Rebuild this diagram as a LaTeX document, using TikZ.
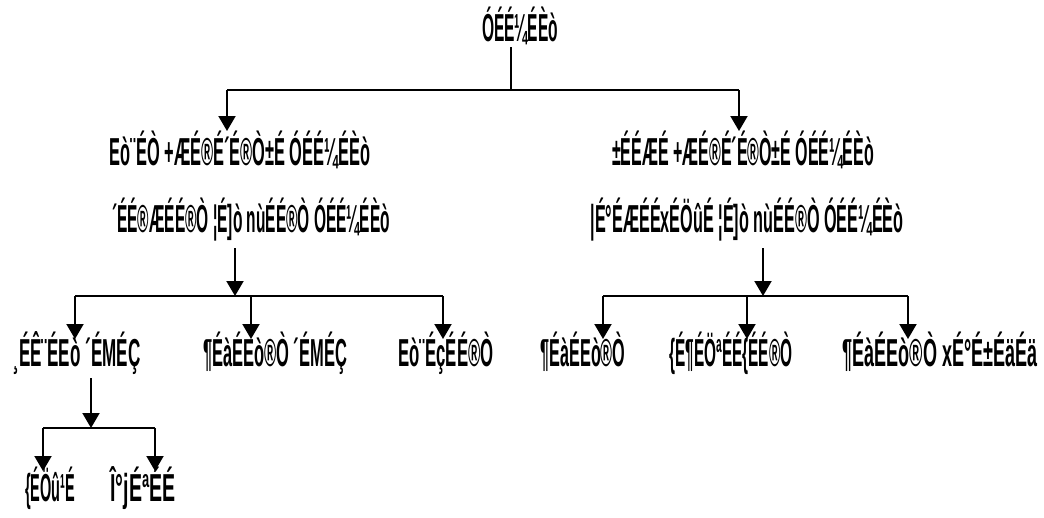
\documentclass[tikz,border=0pt]{standalone}
\usepackage{fontspec}
\usepackage{graphicx}
\setmainfont{Liberation Sans}
\usetikzlibrary{arrows.meta}
\newsavebox{\lblbox}
\newcommand{\fitw}[2]{\sbox{\lblbox}{#2}\scalebox{\fpeval{(#1)/(\wd\lblbox)}}[1]{\usebox{\lblbox}}}
\begin{document}
\begin{tikzpicture}[x=1pt,y=-1pt,
  lbl/.style={inner sep=0pt,anchor=base,font=\fontsize{39}{41}\selectfont\bfseries},
  conn/.style={line width=2pt},
  arr/.style={line width=2pt,-{Triangle[width=17pt,length=15pt]}}]
\useasboundingbox (0,0) rectangle (1044,517);
% texts
\node[lbl] (top) at (520,41) {\fitw{76pt}{ÓÉÉ¼ÉÈò}};
\node[lbl] (l2a) at (240,165) {\fitw{260pt}{Eò¨ÉÒ +ÆÉ®É´É®Ò±É ÓÉÉ¼ÉÈò}};
\node[lbl] (l2b) at (743,165) {\fitw{262pt}{±ÉÉÆÉ +ÆÉ®É´É®Ò±É ÓÉÉ¼ÉÈò}};
\node[lbl] (l3a) at (251,232) {\fitw{278pt}{´ÉÉ®ÆÉÉ®Ò ¦É]ò nùÉÉ®Ò ÓÉÉ¼ÉÈò}};
\node[lbl] (l3b) at (747,232) {\fitw{313pt}{|É°ÉÆÉÉxÉÖûÉ ¦É]ò nùÉÉ®Ò ÓÉÉ¼ÉÈò}};
\node[lbl] (l4a) at (77,366) {\fitw{127pt}{¸ÉÊ¨ÉEò ´ÉMÉÇ}};
\node[lbl] (l4b) at (275,366) {\fitw{144pt}{¶ÉàÉEò®Ò ´ÉMÉÇ}};
\node[lbl] (l4c) at (446,366) {\fitw{95pt}{Eò¨ÉçÉÉ®Ò}};
\node[lbl] (l4d) at (583,366) {\fitw{85pt}{¶ÉàÉEò®Ò}};
\node[lbl] (l4e) at (731,366) {\fitw{123pt}{\{É¶ÉÖªÉÉ\{ÉÉ®Ò}};
\node[lbl] (l4f) at (940,366) {\fitw{195pt}{¶ÉàÉEò®Ò xÉ°É±ÉäÉä}};
\node[lbl] (l5a) at (50,501) {\fitw{50pt}{\{ÉÖû¹É}};
\node[lbl] (l5b) at (143,501) {\fitw{65pt}{Î°jÉªÉÉ}};
% level 1 -> 2
\coordinate (t0) at (511,47);
\coordinate (j0) at (511,90);
\coordinate (jl) at (227,90);
\coordinate (jr) at (739,90);
\coordinate (al) at (227,131);
\coordinate (ar) at (739,131);
\draw[conn] (t0) -- (j0);
\draw[conn] (jl) -- (jr);
\draw[arr] (jl) -- (al);
\draw[arr] (jr) -- (ar);
% left level 3 -> 4
\coordinate (s1) at (235,248);
\coordinate (h1) at (235,296);
\coordinate (h1a) at (75,296);
\coordinate (h1b) at (251,296);
\coordinate (h1c) at (443,296);
\coordinate (e1a) at (75,339);
\coordinate (e1b) at (251,339);
\coordinate (e1c) at (443,339);
\draw[arr] (s1) -- (h1);
\draw[conn] (h1a) -- (h1c);
\draw[arr] (h1a) -- (e1a);
\draw[arr] (h1b) -- (e1b);
\draw[arr] (h1c) -- (e1c);
% right level 3 -> 4
\coordinate (s2) at (763,248);
\coordinate (h2) at (763,296);
\coordinate (h2a) at (603,296);
\coordinate (h2b) at (747,296);
\coordinate (h2c) at (908,296);
\coordinate (e2a) at (603,339);
\coordinate (e2b) at (747,339);
\coordinate (e2c) at (908,339);
\draw[arr] (s2) -- (h2);
\draw[conn] (h2a) -- (h2c);
\draw[arr] (h2a) -- (e2a);
\draw[arr] (h2b) -- (e2b);
\draw[arr] (h2c) -- (e2c);
% level 4 -> 5
\coordinate (s3) at (91,378);
\coordinate (h3) at (91,428);
\coordinate (h3a) at (43,428);
\coordinate (h3b) at (155,428);
\coordinate (e3a) at (43,471);
\coordinate (e3b) at (155,471);
\draw[arr] (s3) -- (h3);
\draw[conn] (h3a) -- (h3b);
\draw[arr] (h3a) -- (e3a);
\draw[arr] (h3b) -- (e3b);
\end{tikzpicture}
\end{document}
